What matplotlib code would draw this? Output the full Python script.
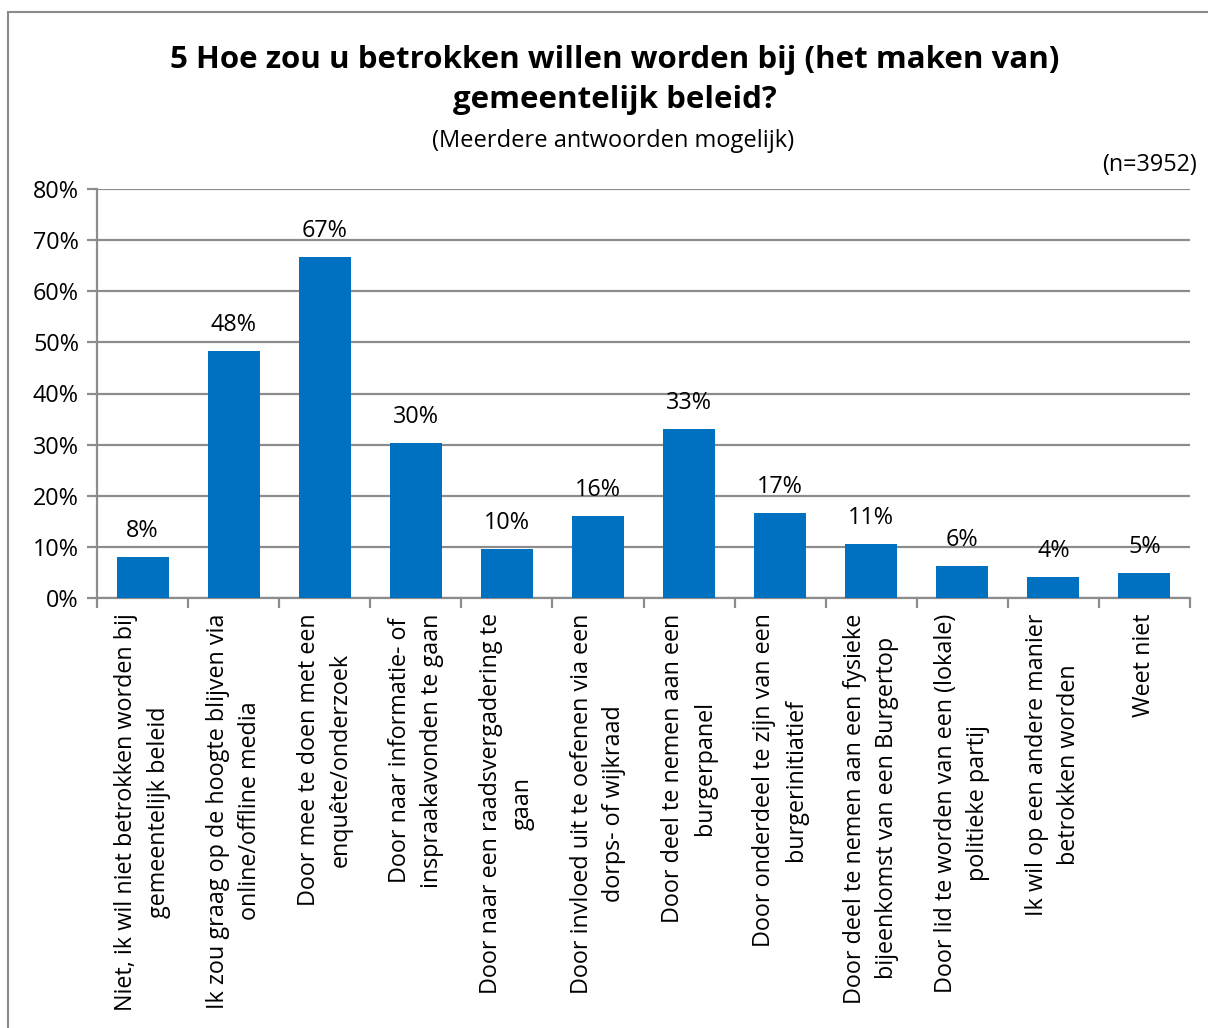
import matplotlib
matplotlib.use("Agg")
import matplotlib.pyplot as plt
from matplotlib.patches import Rectangle

categories = [
    "Niet, ik wil niet betrokken worden bij\ngemeentelijk beleid",
    "Ik zou graag op de hoogte blijven via\nonline/offline media",
    "Door mee te doen met een\nenquête/onderzoek",
    "Door naar informatie- of\ninspraakavonden te gaan",
    "Door naar een raadsvergadering te\ngaan",
    "Door invloed uit te oefenen via een\ndorps- of wijkraad",
    "Door deel te nemen aan een\nburgerpanel",
    "Door onderdeel te zijn van een\nburgerinitiatief",
    "Door deel te nemen aan een fysieke\nbijeenkomst van een Burgertop",
    "Door lid te worden van een (lokale)\npolitieke partij",
    "Ik wil op een andere manier\nbetrokken worden",
    "Weet niet",
]
values = [8.0, 48.3, 66.7, 30.3, 9.6, 16.0, 33.1, 16.6, 10.6, 6.3, 4.1, 4.9]
yticks = [0, 10, 20, 30, 40, 50, 60, 70, 80]

FONT = ["Open Sans", "DejaVu Sans"]
plt.rcParams["font.family"] = FONT
GRID = "#8c8c8c"
BLUE = "#0070C0"

fig = plt.figure(figsize=(12.08, 10.28), dpi=100)
fig.patches.append(Rectangle((8/1208, -0.05), 1.1, 0.05 + (1028-12)/1028,
                             transform=fig.transFigure, fill=False,
                             edgecolor="#8a8a8a", linewidth=1.5))

ax = fig.add_axes([97/1208, (1028-598)/1028, (1190-97)/1208, (598-189)/1028])
x = list(range(len(categories)))
ax.bar(x, values, width=0.57, color=BLUE, zorder=3)
for xi, v in zip(x, values):
    ax.annotate(f"{round(v):d}%", (xi, v), xytext=(0, 10), textcoords="offset points",
                ha="center", va="bottom", fontsize=16.8, color="black")

ax.set_ylim(0, 80)
ax.set_xlim(-0.5, len(categories) - 0.5)
ax.set_yticks(yticks)
ax.set_yticklabels([f"{t}%" for t in yticks], fontsize=16.8)
ax.yaxis.grid(True, color=GRID, linewidth=1.6, zorder=0)
ax.set_axisbelow(True)

ax.set_xticks(x)
ax.set_xticklabels(categories, rotation=90, fontsize=16.8, ha="center", va="top",
                   multialignment="center", linespacing=1.45)
ax.set_xticks([i - 0.5 for i in range(len(categories) + 1)], minor=True)
ax.tick_params(axis="x", which="major", length=0, pad=11)
ax.tick_params(axis="x", which="minor", length=7, width=1.6, color=GRID, direction="out")
ax.tick_params(axis="y", length=7, width=1.6, color=GRID, direction="out", pad=6)

for s in ["top", "right"]:
    ax.spines[s].set_visible(False)
for s in ["left", "bottom"]:
    ax.spines[s].set_color(GRID)
    ax.spines[s].set_linewidth(1.6)

fig.text(615/1208, 1 - 80/1028, "5 Hoe zou u betrokken willen worden bij (het maken van)\ngemeentelijk beleid?",
         ha="center", va="center", fontsize=22.5, fontweight="bold", linespacing=1.45)
fig.text(613/1208, 1 - 141/1028, "(Meerdere antwoorden mogelijk)", ha="center", va="center", fontsize=17)
fig.text(1197/1208, 1 - 165/1028, "(n=3952)", ha="right", va="center", fontsize=16.8)

fig.savefig("out.png", dpi=100)
